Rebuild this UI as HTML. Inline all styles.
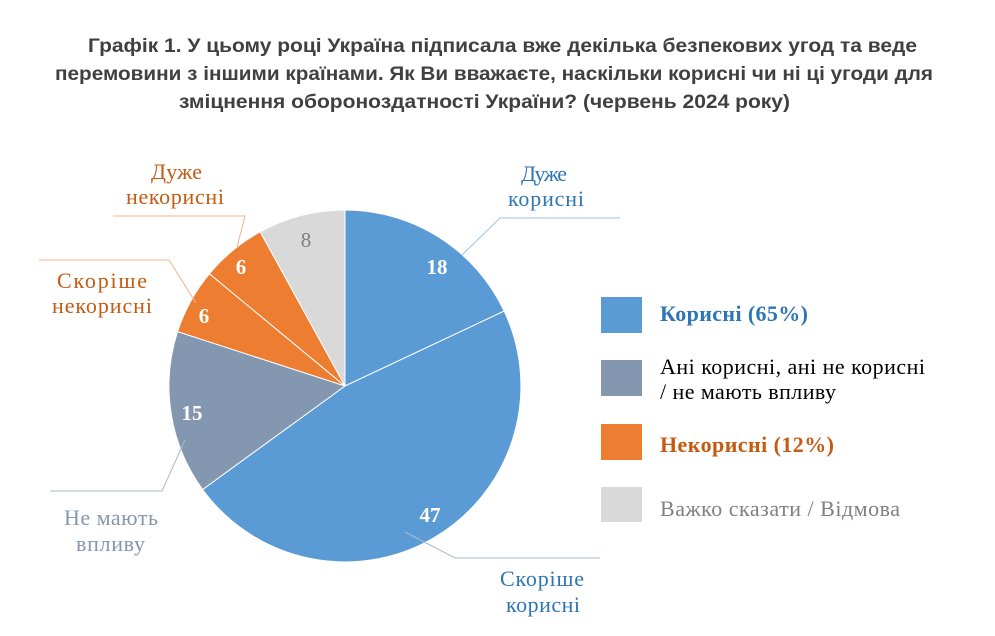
<!DOCTYPE html>
<html><head><meta charset="utf-8"><style>
html,body{margin:0;padding:0;background:#fff;}
svg{display:block;}
</style></head><body>
<svg width="995" height="636" viewBox="0 0 995 636" xmlns="http://www.w3.org/2000/svg">
<rect width="995" height="636" fill="#fff"/>
<g font-family="'Liberation Sans', sans-serif" font-weight="bold" font-size="19" fill="#404040">
<text x="88" y="52" textLength="829" lengthAdjust="spacingAndGlyphs">Графік 1. У цьому році Україна підписала вже декілька безпекових угод та веде</text>
<text x="55" y="80" textLength="878" lengthAdjust="spacingAndGlyphs">перемовини з іншими країнами. Як Ви вважаєте, наскільки корисні чи ні ці угоди для</text>
<text x="179" y="108" textLength="611" lengthAdjust="spacingAndGlyphs">зміцнення обороноздатності України? (червень 2024 року)</text>
</g>
<g stroke="#fff" stroke-width="1">
<path d="M345,386 L345,210 A176,176 0 0 1 504.2,311.1 Z" fill="#5b9bd5"/>
<path d="M345,386 L504.2,311.1 A176,176 0 0 1 202.6,489.5 Z" fill="#5b9bd5"/>
<path d="M345,386 L202.6,489.5 A176,176 0 0 1 177.6,331.6 Z" fill="#8497b0"/>
<path d="M345,386 L177.6,331.6 A176,176 0 0 1 209.4,273.8 Z" fill="#ed7d31"/>
<path d="M345,386 L209.4,273.8 A176,176 0 0 1 260.2,231.8 Z" fill="#ed7d31"/>
<path d="M345,386 L260.2,231.8 A176,176 0 0 1 345,210 Z" fill="#d9d9d9"/>
</g>
<g fill="none" stroke-width="1">
<polyline points="462,255 500,218 620,218" stroke="#9dc3e6"/>
<polyline points="113,216 245,216 237,247" stroke="#f4b183"/>
<polyline points="39,260 169,260 196,303" stroke="#f4b183"/>
<polyline points="50,491 162,491 185,440" stroke="#adb9ca"/>
<polyline points="405,532 455,558 600,558" stroke="#adb9ca"/>
</g>
<g font-family="'Liberation Serif', serif" font-size="22" lengthAdjust="spacingAndGlyphs">
<text x="521" y="181" textLength="46" fill="#2e75b6">Дуже</text>
<text x="508" y="206" textLength="76" fill="#2e75b6">корисні</text>
<text x="151" y="179" textLength="51" fill="#c55a11">Дуже</text>
<text x="126" y="204" textLength="98" fill="#c55a11">некорисні</text>
<text x="57" y="288" textLength="90" fill="#c55a11">Скоріше</text>
<text x="52" y="313" textLength="100" fill="#c55a11">некорисні</text>
<text x="64" y="525" textLength="94" fill="#8497b0">Не мають</text>
<text x="76" y="551" textLength="69" fill="#8497b0">впливу</text>
<text x="500" y="586" textLength="84" fill="#2e75b6">Скоріше</text>
<text x="506" y="612" textLength="74" fill="#2e75b6">корисні</text>
</g>
<g font-family="'Liberation Serif', serif" font-size="21" font-weight="bold" fill="#fff" text-anchor="middle">
<text x="437" y="274">18</text>
<text x="430" y="522">47</text>
<text x="192" y="420">15</text>
<text x="204" y="323">6</text>
<text x="241" y="274">6</text>
<text x="306" y="247" fill="#7f7f7f" font-weight="normal">8</text>
</g>
<rect x="601" y="297" width="41" height="36" fill="#5b9bd5"/>
<rect x="601" y="360" width="41" height="36" fill="#8497b0"/>
<rect x="601" y="424" width="41" height="36" fill="#ed7d31"/>
<rect x="601" y="487" width="41" height="35" fill="#d9d9d9"/>
<g font-family="'Liberation Serif', serif" font-size="22" lengthAdjust="spacingAndGlyphs">
<text x="660" y="321" textLength="148" fill="#2e75b6" font-weight="bold">Корисні (65%)</text>
<text x="660" y="374" textLength="265" fill="#000">Ані корисні, ані не корисні</text>
<text x="660" y="399" textLength="176" fill="#000">/ не мають впливу</text>
<text x="660" y="452" textLength="174" fill="#c55a11" font-weight="bold">Некорисні (12%)</text>
<text x="660" y="516" textLength="240" fill="#808080">Важко сказати / Відмова</text>
</g>
</svg>
</body></html>
